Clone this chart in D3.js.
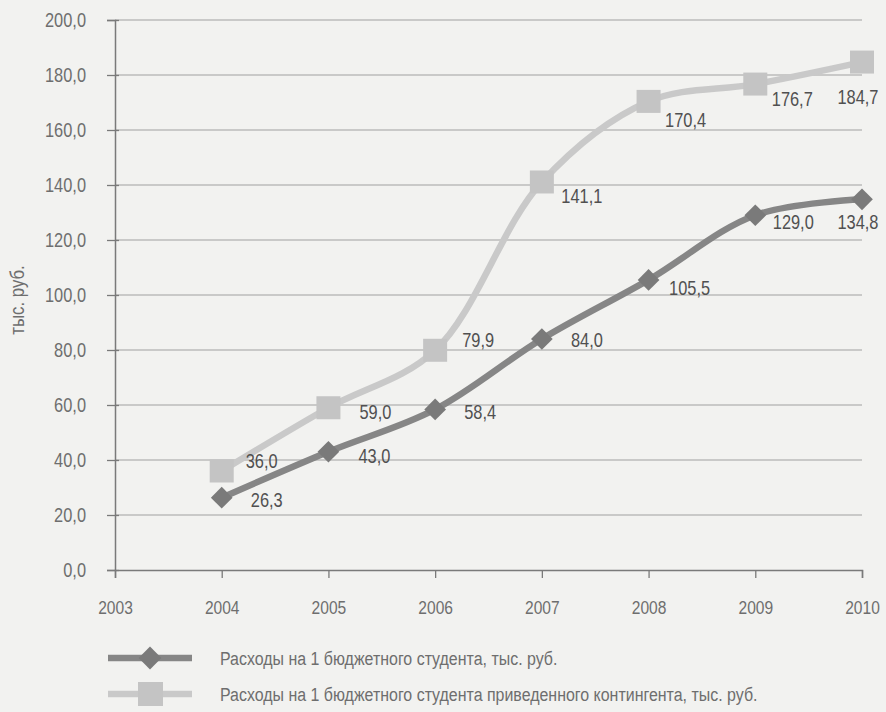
<!DOCTYPE html>
<html><head><meta charset="utf-8">
<script src="https://cdn.jsdelivr.net/npm/d3@7"></script>
<style>
html,body{margin:0;padding:0;background:#f2f2f0;}
svg{display:block;font-family:"Liberation Sans",Arial,sans-serif;}
</style></head><body>
<svg id="chart" width="886" height="712"></svg>
<script>
const years = [2003, 2004, 2005, 2006, 2007, 2008, 2009, 2010];
const dataYears = [2004, 2005, 2006, 2007, 2008, 2009, 2010];
const perStudent = [26.3, 43.0, 58.4, 84.0, 105.5, 129.0, 134.8];
const perReduced = [36.0, 59.0, 79.9, 141.1, 170.4, 176.7, 184.7];
const yTicks = [0, 20, 40, 60, 80, 100, 120, 140, 160, 180, 200];
const seriesNames = ["Расходы на 1 бюджетного студента, тыс. руб.",
  "Расходы на 1 бюджетного студента приведенного контингента, тыс. руб."];
const yTitle = "тыс. руб.";

// label placement offsets (layout only, pixels from the point to the label centre)
const offReduced = [[40,-10],[47,4],[43,-10],[40,14],[37,19],[37,15],[-4,35]];
const offStudent = [[45,2],[46,4],[45,3],[45,1],[41,8],[38,7],[-4,23]];

const svg = d3.select("#chart");
const x = d3.scaleLinear().domain([2003, 2010]).range([115, 862]);
const y = d3.scaleLinear().domain([0, 200]).range([570, 20]);
const tickColor = "#6e6e6e", labelColor = "#505050";
const darkC = "#868686", darkM = "#7a7a7a", lightC = "#c9c9c9", lightM = "#c4c4c4";

// narrow-font look: compress each text horizontally about its anchor point
function condense(sel, k) {
  sel.each(function () {
    const t = d3.select(this);
    const ax = +t.attr("x") || 0;
    const prev = t.attr("transform") || "";
    t.attr("transform", `${prev} translate(${ax},0) scale(${k},1) translate(${-ax},0)`);
  });
}

// gridlines
svg.append("g").selectAll("line").data(yTicks.filter(d => d > 0)).join("line")
  .attr("x1", 115).attr("x2", 862).attr("y1", d => y(d)).attr("y2", d => y(d))
  .attr("stroke", "#a0a0a0").attr("stroke-width", 1.2);

// y axis
const yAxis = d3.axisLeft(y).tickValues(yTicks).tickSize(8).tickPadding(21)
  .tickFormat(d => d3.format(".1f")(d).replace(".", ","));
const gy = svg.append("g").attr("transform", "translate(115,0)").call(yAxis);
gy.select(".domain").attr("stroke", "#7a7a7a").attr("stroke-width", 1.5);
gy.selectAll(".tick line").attr("stroke", "#7a7a7a").attr("stroke-width", 1.3).attr("x2", -8).attr("x1", 4);
gy.selectAll("text").attr("fill", tickColor).attr("font-size", 20).attr("font-family", "inherit").call(condense, 0.82);

// x axis
const xAxis = d3.axisBottom(x).tickValues(years).tickSize(8).tickPadding(23).tickFormat(d3.format("d"));
const gx = svg.append("g").attr("transform", "translate(0,570)").call(xAxis);
gx.select(".domain").attr("stroke", "#7a7a7a").attr("stroke-width", 1.5);
gx.selectAll(".tick line").attr("stroke", "#7a7a7a").attr("stroke-width", 1.3);
gx.selectAll("text").attr("fill", tickColor).attr("font-size", 19).attr("font-family", "inherit").call(condense, 0.82);

// y title
svg.append("text").attr("transform", "translate(17,300) rotate(-90) scale(0.84,1)")
  .attr("text-anchor", "middle").attr("dy", "0.35em").attr("fill", tickColor).attr("font-size", 20)
  .text(yTitle);

const line = d3.line().x((d, i) => x(dataYears[i])).y(d => y(d)).curve(d3.curveCatmullRom.alpha(0.5));
const fmt = v => d3.format(".1f")(v).replace(".", ",");

// light series
svg.append("path").datum(perReduced).attr("d", line).attr("fill", "none")
  .attr("stroke", lightC).attr("stroke-width", 6.5);
svg.append("g").selectAll("rect").data(perReduced).join("rect")
  .attr("x", (d, i) => x(dataYears[i]) - 12).attr("y", d => y(d) - 11.5)
  .attr("width", 24).attr("height", 23).attr("fill", lightM);

// dark series
svg.append("path").datum(perStudent).attr("d", line).attr("fill", "none")
  .attr("stroke", darkC).attr("stroke-width", 6.5);
svg.append("g").selectAll("path").data(perStudent).join("path")
  .attr("d", d3.symbol(d3.symbolDiamond2, 300)())
  .attr("transform", (d, i) => `translate(${x(dataYears[i])},${y(d)})`)
  .attr("fill", darkM);

// labels
svg.append("g").selectAll("text").data(perReduced).join("text")
  .attr("x", (d, i) => x(dataYears[i]) + offReduced[i][0])
  .attr("y", (d, i) => y(d) + offReduced[i][1])
  .attr("text-anchor", "middle").attr("dy", "0.35em").attr("fill", labelColor).attr("font-size", 20)
  .text(fmt).call(condense, 0.82);
svg.append("g").selectAll("text").data(perStudent).join("text")
  .attr("x", (d, i) => x(dataYears[i]) + offStudent[i][0])
  .attr("y", (d, i) => y(d) + offStudent[i][1])
  .attr("text-anchor", "middle").attr("dy", "0.35em").attr("fill", labelColor).attr("font-size", 20)
  .text(fmt).call(condense, 0.82);

// legend
const leg = svg.append("g");
[[658, darkC, darkM, "diamond"], [694, lightC, lightM, "square"]].forEach((l, i) => {
  leg.append("line").attr("x1", 108).attr("x2", 192).attr("y1", l[0]).attr("y2", l[0])
    .attr("stroke", l[1]).attr("stroke-width", 6.5);
  if (l[3] === "diamond") {
    leg.append("path").attr("d", d3.symbol(d3.symbolDiamond2, 330)())
      .attr("transform", `translate(150,${l[0]})`).attr("fill", l[2]);
  } else {
    leg.append("rect").attr("x", 138).attr("y", l[0] - 12).attr("width", 25).attr("height", 24).attr("fill", l[2]);
  }
  leg.append("text").attr("x", 220).attr("y", l[0]).attr("dy", "0.35em")
    .attr("fill", tickColor).attr("font-size", 19).text(seriesNames[i]).call(condense, 0.84);
});
</script>
</body></html>
